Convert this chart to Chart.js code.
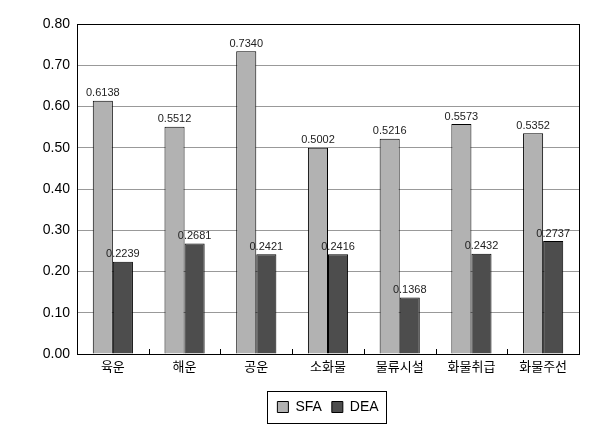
<!DOCTYPE html>
<html>
<head>
<meta charset="utf-8">
<script src="https://cdn.jsdelivr.net/npm/chart.js@4"></script>
<style>
  html, body { margin: 0; padding: 0; background: #fff; }
  #wrap { width: 616px; height: 430px; }
</style>
</head>
<body>
<div id="wrap"><canvas id="chart" width="616" height="430"></canvas></div>
<script>
const categories = ["육운", "해운", "공운", "소화물", "물류시설", "화물취급", "화물주선"];
const sfaValues = [0.6138, 0.5512, 0.7340, 0.5002, 0.5216, 0.5573, 0.5352];
const deaValues = [0.2239, 0.2681, 0.2421, 0.2416, 0.1368, 0.2432, 0.2737];
const yTicks = [0, 0.1, 0.2, 0.3, 0.4, 0.5, 0.6, 0.7, 0.8];

const FONT = "'Liberation Sans', 'Noto Sans CJK KR', sans-serif";

// value labels above each bar
const valueLabels = {
  id: "valueLabels",
  afterDatasetsDraw(chart) {
    const ctx = chart.ctx;
    ctx.save();
    ctx.font = "11px " + FONT;
    ctx.fillStyle = "#222";
    ctx.textAlign = "center";
    ctx.textBaseline = "bottom";
    chart.data.datasets.forEach((ds, i) => {
      chart.getDatasetMeta(i).data.forEach((bar, j) => {
        ctx.fillText(ds.data[j].toFixed(4), bar.x, bar.y - 2);
      });
    });
    ctx.restore();
  }
};

// centre the legend under the plot area instead of the whole canvas
// (hit boxes get recomputed by the legend plugin in afterUpdate)
const legendShift = {
  id: "legendShift",
  afterLayout(chart) {
    const lg = chart.legend;
    const a = chart.chartArea;
    const dx = (a.left + a.right) / 2 - (lg.left + lg.right) / 2;
    lg.left += dx;
    lg.right += dx;
  }
};

// frame, category tick marks and legend box
const frame = {
  id: "frame",
  afterDraw(chart) {
    const ctx = chart.ctx;
    const a = chart.chartArea;
    const x = chart.scales.x;
    ctx.save();
    ctx.strokeStyle = "#000";
    ctx.lineWidth = 1;
    ctx.strokeRect(Math.round(a.left) + 0.5, Math.round(a.top) + 0.5,
      Math.round(a.right - a.left), Math.round(a.bottom - a.top));
    ctx.beginPath();
    for (let i = 0; i < categories.length - 1; i++) {
      const px = Math.round((x.getPixelForValue(i) + x.getPixelForValue(i + 1)) / 2) + 0.5;
      ctx.moveTo(px, a.bottom);
      ctx.lineTo(px, a.bottom - 5);
    }
    ctx.stroke();
    const boxes = chart.legend.legendHitBoxes;
    if (boxes.length) {
      const l = boxes[0].left - 10;
      const r = boxes[boxes.length - 1].left + boxes[boxes.length - 1].width + 8;
      const t = boxes[0].top - 9;
      const b = boxes[0].top + boxes[0].height + 9;
      ctx.strokeRect(Math.round(l) + 0.5, Math.round(t) + 0.5, Math.round(r - l), Math.round(b - t));
    }
    ctx.restore();
  }
};

new Chart(document.getElementById("chart"), {
  type: "bar",
  data: {
    labels: categories,
    datasets: [
      { label: "SFA", data: sfaValues, backgroundColor: "#b2b2b2", borderColor: "#000", borderWidth: 1,
        categoryPercentage: 0.56, barPercentage: 1 },
      { label: "DEA", data: deaValues, backgroundColor: "#4d4d4d", borderColor: "#000", borderWidth: 1,
        categoryPercentage: 0.56, barPercentage: 1 }
    ]
  },
  options: {
    responsive: false,
    animation: false,
    layout: { padding: { left: 0, right: 37, top: 24, bottom: 6 } },
    plugins: {
      legend: {
        position: "bottom",
        labels: {
          font: { family: FONT, size: 14 },
          color: "#000",
          boxWidth: 11,
          boxHeight: 11,
          padding: 10,
          generateLabels(chart) {
            return chart.data.datasets.map((ds, i) => ({
              text: ds.label,
              fillStyle: ds.backgroundColor,
              strokeStyle: "#000",
              lineWidth: 1,
              datasetIndex: i
            }));
          }
        }
      },
      tooltip: { enabled: false }
    },
    scales: {
      x: {
        grid: { display: false, drawTicks: false },
        border: { color: "#000" },
        ticks: { font: { family: FONT, size: 13 }, color: "#000", padding: 6 },
        afterFit(scale) { scale.height = 36; }
      },
      y: {
        min: 0,
        max: 0.8,
        afterBuildTicks(scale) { scale.ticks = yTicks.map(v => ({ value: v })); },
        grid: { color: "#999", drawTicks: false },
        border: { color: "#000" },
        ticks: {
          font: { family: FONT, size: 14 },
          color: "#000",
          padding: 7,
          callback: v => v.toFixed(2)
        },
        afterFit(scale) { scale.width = 77; }
      }
    }
  },
  plugins: [legendShift, valueLabels, frame]
});
</script>
</body>
</html>
